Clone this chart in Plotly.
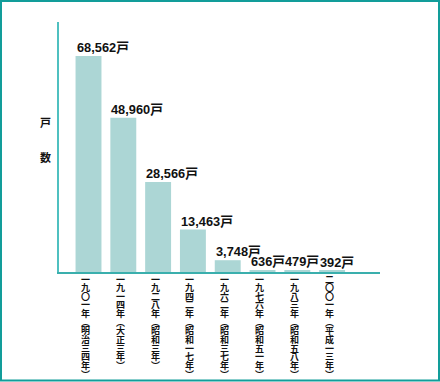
import plotly.graph_objects as go

years = ["一九〇一年︵明治三四年︶", "一九一四年︵大正三年︶", "一九二八年︵昭和三年︶",
         "一九四二年︵昭和一七年︶", "一九六二年︵昭和三七年︶", "一九七六年︵昭和五一年︶",
         "一九八三年︵昭和五八年︶", "二〇〇一年︵平成一三年︶"]
households = [68562, 48960, 28566, 13463, 3748, 636, 479, 392]
value_labels = ["68,562戸", "48,960戸", "28,566戸", "13,463戸", "3,748戸", "636戸", "479戸", "392戸"]
y_title = "戸数"

W, H = 440, 382
L, R, T, B = 59, 60, 22, 110
pw, ph = W - L - R, H - T - B

def px_x(px):
    return (px - L) / pw

def px_y(py):
    return (H - B - py) / ph

xs = list(range(len(households)))
fig = go.Figure()
fig.add_trace(go.Bar(x=xs, y=households, width=0.745, marker_color="#acd6d5",
                     marker_line_width=0, hoverinfo="skip"))

ann = []
for i, (v, lab) in enumerate(zip(households, value_labels)):
    ann.append(dict(x=i, y=v, xref="x", yref="y", text="<b>" + lab + "</b>", showarrow=False,
                    xanchor="left", yanchor="bottom", xshift=-14, yshift=-1,
                    font=dict(family="Liberation Sans, Noto Sans CJK JP", size=12.8, color="#111")))
for i, lab in enumerate(years):
    for j, ch in enumerate(lab):
        ann.append(dict(x=i, y=0, xref="x", yref="y", text="<b>" + ch + "</b>", showarrow=False,
                        xanchor="center", yanchor="middle", xshift=-3,
                        yshift=-(7 + j * 8.65),
                        font=dict(family="Noto Sans CJK JP", size=9, color="#111")))
for j, ch in enumerate(y_title):
    ann.append(dict(x=px_x(45), y=px_y(122 + j * 35), xref="paper", yref="paper",
                    text="<b>" + ch + "</b>",
                    showarrow=False, xanchor="center", yanchor="middle",
                    font=dict(family="Noto Sans CJK JP", size=11, color="#111")))

shapes = [dict(type="rect", xref="paper", yref="paper",
               x0=px_x(1), x1=px_x(439), y0=px_y(1), y1=px_y(380.5),
               line=dict(color="#129d9a", width=2), layer="below")]

fig.update_layout(
    width=W, height=H, margin=dict(l=L, r=R, t=T, b=B),
    paper_bgcolor="white", plot_bgcolor="white", showlegend=False,
    annotations=ann, shapes=shapes,
    xaxis=dict(range=[-0.848, 8.376], showticklabels=False, ticks="", showgrid=False,
               zeroline=False, showline=True, linecolor="#3aafad", linewidth=2, fixedrange=True),
    yaxis=dict(range=[0, 79380], showticklabels=False, ticks="", showgrid=False,
               zeroline=False, showline=True, linecolor="#4fc0c0", linewidth=2, fixedrange=True),
)
fig.write_html("out.html", post_script="document.body.style.margin='0';",
               config={"displayModeBar": False})
